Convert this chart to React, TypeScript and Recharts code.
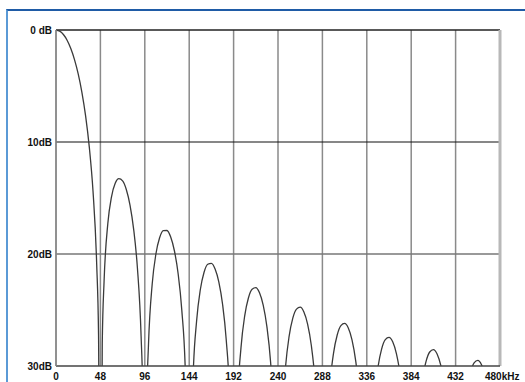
import React from 'react';
import {
  LineChart,
  Line,
  XAxis,
  YAxis,
  CartesianGrid,
  ReferenceLine
} from 'recharts';

// frequency axis (kHz) and attenuation (dB, positive = down)
const freqKHz = [
  0, 4, 8, 12, 16, 20, 24, 28, 32, 36, 40, 44, 46, 48,
  50, 52, 56, 60, 64, 68, 72, 76, 80, 84, 88, 92, 94, 96,
  98, 100, 104, 108, 112, 116, 120, 124, 128, 132, 136, 140, 144,
  148, 152, 156, 160, 164, 168, 172, 176, 180, 184, 188, 192,
  196, 200, 204, 208, 212, 216, 220, 224, 228, 232, 236, 240,
  244, 248, 252, 256, 260, 264, 268, 272, 276, 280, 284, 288,
  292, 296, 300, 304, 308, 312, 316, 320, 324, 328, 332, 336,
  340, 344, 348, 352, 356, 360, 364, 368, 372, 376, 380, 384,
  388, 392, 396, 400, 404, 408, 412, 416, 420, 424, 428, 432,
  436, 440, 444, 448, 452, 456, 460, 464, 468, 472, 476, 480
];

const attenDb = [
  0, 0.1, 0.4, 0.91, 1.65, 2.64, 3.92, 5.56, 7.67, 10.46, 14.38, 20.93, 27.27, 60,
  27.99, 22.38, 17.3, 14.89, 13.69, 13.27, 13.47, 14.24, 15.63, 17.82, 21.23, 27.34, 33.47, 60,
  33.83, 28.06, 22.68, 20.0, 18.55, 17.91, 17.9, 18.49, 19.71, 21.74, 25.01, 30.98, 60,
  31.47, 25.98, 23.19, 21.65, 20.92, 20.83, 21.33, 22.48, 24.44, 27.64, 33.54, 60,
  33.91, 28.36, 25.52, 23.93, 23.15, 23.01, 23.47, 24.57, 26.49, 29.65, 35.52, 60,
  35.81, 30.23, 27.36, 25.73, 24.92, 24.75, 25.18, 26.26, 28.15, 31.28, 37.13, 60,
  37.37, 31.77, 28.87, 27.23, 26.39, 26.2, 26.61, 27.67, 29.54, 32.66, 38.48, 60,
  38.69, 33.07, 30.16, 28.5, 27.65, 27.45, 27.84, 28.89, 30.74, 33.84, 39.66, 60,
  39.84, 34.21, 31.28, 29.61, 28.75, 28.53, 28.92, 29.95, 31.79, 34.89, 40.69, 60,
  40.85, 35.21, 32.28, 30.6, 29.72, 29.5, 29.88, 30.9, 32.73, 35.82, 41.61, 60
];

const xTicks = [0, 48, 96, 144, 192, 240, 288, 336, 384, 432, 480];
const yTicks = [0, 10, 20, 30];
const yLabels = ['0 dB', '10dB', '20dB', '30dB'];

const data = freqKHz.map((f, i) => ({ f, db: attenDb[i] }));

const tickFont = {
  fontFamily: '"Liberation Sans", Arial, sans-serif',
  fontSize: 10,
  fontWeight: 700,
  fill: '#111'
};

const XTick = (props: any) => {
  const { x, y, payload } = props;
  const last = payload.value === 480;
  return (
    <text
      x={last ? x - 15 : x}
      y={y}
      dy="0.71em"
      textAnchor={last ? 'start' : 'middle'}
      {...tickFont}
    >
      {last ? '480kHz' : payload.value}
    </text>
  );
};

export default function App() {
  return (
    <div style={{ position: 'absolute', left: 0, top: 0, width: 525, height: 382, background: '#fff' }}>
      <div
        style={{
          position: 'absolute',
          left: 6,
          top: 9,
          right: 0,
          bottom: 0,
          borderTop: '2px solid #1f5ba6',
          borderLeft: '2px solid #5b9ad6'
        }}
      />
      <LineChart
        width={525}
        height={382}
        data={data}
        margin={{ top: 30, right: 25, left: 0, bottom: 0 }}
        style={{ position: 'absolute', left: 0, top: 0 }}
      >
        <CartesianGrid horizontal={false} stroke="#8a8a8a" strokeWidth={1.5} />
        <XAxis
          dataKey="f"
          type="number"
          domain={[0, 480]}
          ticks={xTicks}
          height={16}
          tickLine={false}
          tickSize={0}
          tickMargin={7}
          axisLine={{ stroke: '#444', strokeWidth: 1.5 }}
          tick={<XTick />}
        />
        <YAxis
          type="number"
          domain={[0, 30]}
          ticks={yTicks}
          reversed
          allowDataOverflow
          width={56}
          tickLine={false}
          tickSize={0}
          tickMargin={4}
          axisLine={{ stroke: '#8a8a8a', strokeWidth: 1.5 }}
          tickFormatter={(v: number) => yLabels[yTicks.indexOf(v)]}
          tick={tickFont}
        />
        <ReferenceLine y={0} stroke="#222" strokeWidth={1.5} />
        <ReferenceLine y={10} stroke="#111" strokeWidth={1.2} />
        <ReferenceLine y={20} stroke="#777" strokeWidth={1.5} />
        <ReferenceLine x={480} stroke="#b8b8b8" strokeWidth={3} />
        <Line
          type="monotone"
          dataKey="db"
          stroke="#3a3a3a"
          strokeWidth={1.3}
          dot={false}
          isAnimationActive={false}
        />
      </LineChart>
    </div>
  );
}
